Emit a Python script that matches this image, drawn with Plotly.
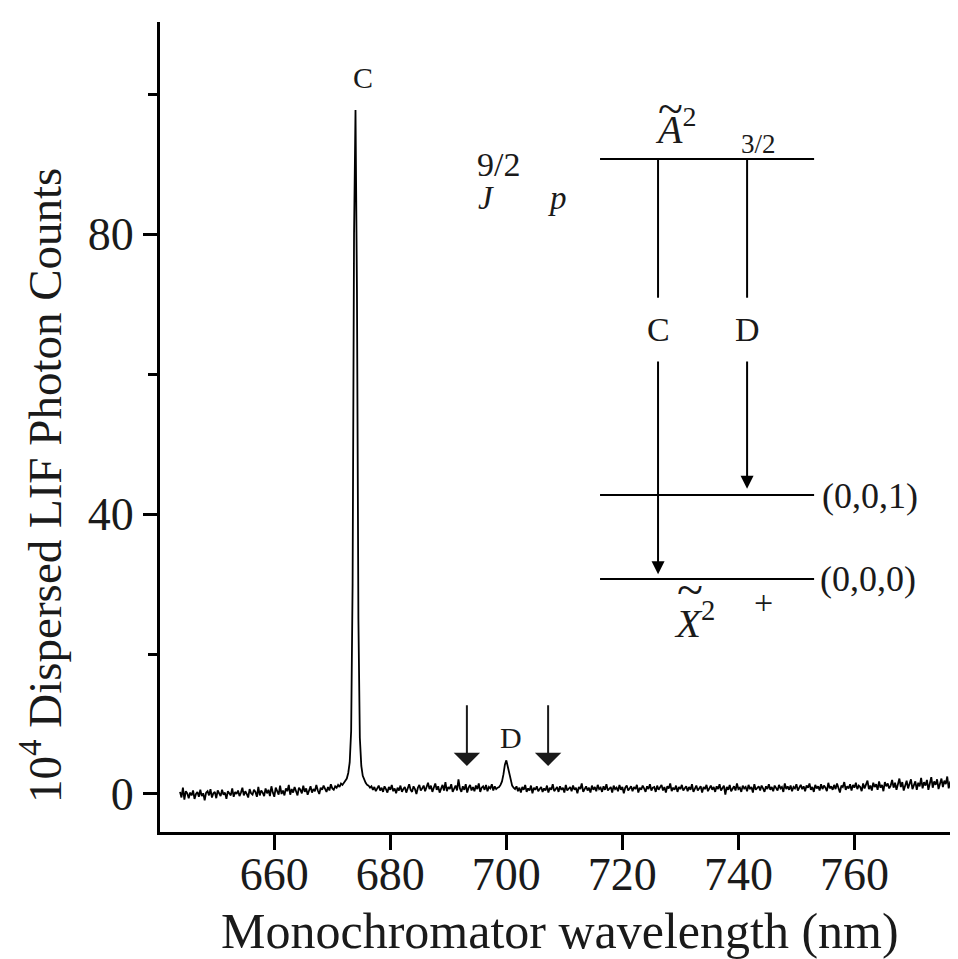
import numpy as np
import plotly.graph_objects as go

# ---------------- data ----------------
WL_START = 643.75   # nm, first sample
WL_STEP = 0.25      # nm, sampling step

BASE_LEFT = [
    0.3, -0.5, 0.9, -0.8, 0.4, 0.1, -0.6, 0.2, -0.2, 0.5, -0.7, 0.0, 0.3, -0.4, 0.6, -0.3, 0.1, -0.9, 0.2, 0.4,
    -0.2, 0.7, -0.5, 0.1, 0.3, -0.6, 0.5, 0.0, -0.3, 0.6, -0.1, 0.2, -0.7, 0.4, 0.1, -0.2, 0.8, -0.4, 0.3, 0.0,
    0.5, -0.3, 0.2, 0.9, -0.2, 0.4, 0.0, -0.5, 0.7, 0.1, -0.1, 0.6, 0.3, -0.4, 1.0, -0.2, 0.5, 0.2, -0.3, 0.8,
    0.1, 0.6, -0.3, 1.1, 0.2, -0.4, 0.9, 0.3, -0.1, 1.2, 0.0, 0.5, -0.2, 0.8, 0.4, 1.3, -0.1, 0.7, 0.2, 1.0,
    0.4, -0.2, 0.9, 0.6, 0.1, 1.2, 0.3, 0.8, -0.1, 0.6, 1.1, 0.2, 0.7, 0.4, 1.3, 0.5, 0.0, 0.9, 0.6, 1.2,
    0.7, 0.3, 1.0, 0.5, 1.4, 0.8, 0.6, 1.1, 0.9, 1.3, 1.0, 1.5, 1.3,
]
PEAK_C = [1.6, 1.9, 2.2, 3.0, 4.5, 9.0, 30.0, 80.0, 97.7, 72.0, 25.0, 8.0, 4.0, 2.6, 2.0, 1.6, 1.3]
BASE_MID = [
    1.2, 0.9, 1.1, 0.6, 1.0, 0.4, 0.8, 1.2, 0.5, 0.9, 0.3, 1.1, 0.7, 0.2, 1.0, 0.6, 1.3, 0.4, 0.8, 0.1,
    0.9, 0.5, 1.2, 0.3, 0.7, 1.0, 0.2, 0.8, 1.4, 0.6, 0.3, 1.1, 0.7, 0.0, 0.9, 1.3, 0.5, 0.8, 1.2, 0.4,
    1.0, 1.6, 0.7, 1.2, 0.3, 0.9, 1.5, 0.6, 1.1, 0.2, 0.8, 1.3, 0.5, 1.7, 0.4, 1.0, 0.7, 1.4, 0.3, 0.9,
    1.2, 0.5, 2.1, 0.8, 0.3, 1.1, 0.6, 1.4, 0.2, 0.9, 1.3, 0.5, 1.0, 0.4, 1.2, 0.7, 1.5, 0.3, 0.9, 1.1,
    0.6, 1.3, 0.4, 1.0, 0.8, 1.4, 0.5, 1.1, 0.7, 0.9,
]
PEAK_D = [1.0, 1.3, 1.8, 2.8, 4.2, 4.8, 3.9, 2.6, 1.7, 1.2, 0.9]
BASE_RIGHT = [
    0.7, 1.1, 0.4, 0.9, 0.2, 1.0, 0.6, 1.3, 0.3, 0.8, 0.5, 1.2, 0.1, 0.9, 0.6, 1.1, 0.4, 0.7, 1.0, 0.3,
    0.8, 0.5, 1.2, 0.2, 0.9, 0.6, 1.4, 0.4, 0.7, 1.0, 0.3, 1.1, 0.6, 0.9, 0.2, 1.3, 0.5, 0.8, 1.0, 0.4,
    1.2, 0.6, 0.9, 0.1, 1.0, 0.7, 1.5, 0.3, 0.8, 1.1, 0.5, 0.9, 0.2, 1.2, 0.6, 1.0, 0.4, 1.3, 0.7, 0.9,
    0.3, 1.1, 0.6, 1.4, 0.5, 0.8, 1.0, 0.2, 1.2, 0.7, 0.9, 0.4, 1.3, 0.6, 1.0, 0.1, 0.9, 1.2, 0.5, 0.8,
    1.1, 0.4, 1.0, 0.7, 1.3, 0.2, 0.9, 0.6, 1.2, 0.8, 0.3, 1.1, 0.7, 1.4, 0.5, 0.9, 1.0, 0.3, 1.2, 0.6,
    0.9, 1.3, 0.5, 1.0, 0.2, 1.1, 0.8, 1.5, 0.4, 0.9, 0.6, 1.2, 0.3, 1.0, 0.7, 1.3, 0.5, 0.8, 1.1, 0.4,
    1.0, 0.6, 1.4, 0.3, 0.9, 1.2, 0.5, 0.8, 1.1, 0.2, 1.0, 0.7, 1.3, 0.4, 0.9, 1.2, 0.6, 1.0, 0.3, 1.1,
    0.7, 1.4, 0.5, 0.9, 1.2, -0.1, 1.0, 0.6, 1.3, 0.4, 0.8, 1.1, 0.5, 1.5, 0.7, 0.9, 0.3, 1.2, 0.8, 1.0,
    0.4, 1.3, 0.7, 1.0, 0.2, 1.4, 0.6, 0.9, 1.1, 0.5, 1.2, 0.8, 0.3, 1.1, 0.7, 1.4, 0.6, 1.0, 0.4, 1.2,
    0.9, 0.5, 1.3, 0.8, 1.0, 0.3, 1.5, 0.7, 1.1, 0.6, 1.2, 0.4, 1.0, 0.8, 1.4, 0.5, 0.9, 1.3, 0.7, 1.1,
    0.4, 1.2, 0.9, 1.5, 0.6, 1.0, 0.3, 1.3, 0.8, 1.1, 0.5, 1.4, 0.7, 1.2, 0.9, 0.4, 1.6, 0.8, 1.1, 0.6,
    1.3, 0.7, 1.5, 0.9, 0.2, 1.2, 1.0, 1.7, 0.6, 1.1, 0.8, 1.4, 0.5, 1.3, 0.9, 1.6, 0.7, 1.2, 1.0, 0.4,
    1.5, 0.8, 1.3, 1.9, 0.7, 1.2, 0.5, 1.6, 1.0, 1.4, 0.6, 1.8, 0.9, 1.3, 0.4, 1.7, 1.1, 1.5, 0.8, 1.2,
    2.0, 0.9, 1.6, 0.6, 1.4, 2.2, 1.0, 1.7, 0.5, 1.3, 1.9, 0.8, 1.5, 2.1, 0.7, 1.4, 1.8, 0.6, 1.6, 1.1,
    2.3, 0.8, 1.7, 1.2, 2.0, 0.6, 1.5, 2.4, 0.9, 1.8, 1.3, 2.1, 0.7, 1.6, 2.2, 1.0, 1.9, 1.4, 2.5, 0.8,
    1.7, 2.1, 1.0, 1.8, 2.4, 1.2, 2.0, 1.5, 2.2,
]
COUNTS = BASE_LEFT + PEAK_C + BASE_MID + PEAK_D + BASE_RIGHT
WAVELENGTH = WL_START + WL_STEP * np.arange(len(COUNTS))

X_TICKS = [660, 680, 700, 720, 740, 760]
Y_TICKS = [0, 40, 80]
Y_MINOR = [20, 60, 100]

PEAK_LABELS = {"C": (675.3, 102.3), "D": (700.8, 8.1)}
MARKER_ARROWS = [693.2, 707.2]          # wavelengths of the two down arrows
MARKER_TAIL, MARKER_TIP = 12.9, 4.0

# energy level inset (drawn in data coordinates)
LEVEL_X = (716.15, 753.05)
LEVELS = {"A": 90.7, "001": 42.7, "000": 30.7}
TRANS_X = {"C": 726.15, "D": 741.5}
TRANS_UPPER_END = 70.9
TRANS_LABEL_Y = 66.3
TRANS_ARROW_START = 62.0
TRANS_TIP = {"C": 31.4, "D": 43.6}

FONT = "Liberation Serif"
INK = "#1a1a1a"

# ---------------- figure ----------------
fig = go.Figure()
fig.add_trace(go.Scatter(x=WAVELENGTH, y=COUNTS, mode="lines",
                         line=dict(color="black", width=1.8), hoverinfo="skip"))

shapes = []
for key, yv in LEVELS.items():
    shapes.append(dict(type="line", xref="x", yref="y", x0=LEVEL_X[0], x1=LEVEL_X[1],
                       y0=yv, y1=yv, line=dict(color="black", width=2)))
for key, xv in TRANS_X.items():
    shapes.append(dict(type="line", xref="x", yref="y", x0=xv, x1=xv,
                       y0=LEVELS["A"], y1=TRANS_UPPER_END, line=dict(color="black", width=2)))

ann = []
# axis titles
ann.append(dict(text="Monochromator wavelength (nm)", xref="paper", yref="paper",
                x=0.5, y=-0.122, xanchor="center", yanchor="middle", showarrow=False,
                font=dict(family=FONT, size=50, color=INK)))
ann.append(dict(text="10<sup>4</sup> Dispersed LIF Photon Counts", xref="paper", yref="paper",
                x=-0.148, y=0.428, xanchor="center", yanchor="middle", showarrow=False,
                textangle=-90, font=dict(family=FONT, size=47, color=INK)))
# peak labels
for lab, (xv, yv) in PEAK_LABELS.items():
    ann.append(dict(text=lab, x=xv, y=yv, xref="x", yref="y", showarrow=False,
                    font=dict(family=FONT, size=30, color=INK)))
# down arrows on spectrum
for xv in MARKER_ARROWS:
    ann.append(dict(text="", x=xv, y=MARKER_TIP, ax=xv, ay=MARKER_TAIL, xref="x", yref="y",
                    axref="x", ayref="y", showarrow=True, arrowhead=1, arrowsize=2.2,
                    arrowwidth=2, arrowcolor=INK, standoff=0))
# transition arrows in inset
for key, xv in TRANS_X.items():
    ann.append(dict(text="", x=xv, y=TRANS_TIP[key], ax=xv, ay=TRANS_ARROW_START, xref="x", yref="y",
                    axref="x", ayref="y", showarrow=True, arrowhead=2, arrowsize=1.3,
                    arrowwidth=2, arrowcolor="black", standoff=0))
    ann.append(dict(text=key, x=xv, y=TRANS_LABEL_Y, xref="x", yref="y", showarrow=False,
                    font=dict(family=FONT, size=34, color=INK)))
# inset texts
inset = [
    dict(text="<i>A</i><sup>2</sup>", x=729.1, y=95.4, font=dict(family=FONT, size=40, color=INK)),
    dict(text="~", x=728.3, y=98.0, font=dict(family=FONT, size=46, color=INK)),
    dict(text="3/2", x=743.4, y=92.9, font=dict(family=FONT, size=27, color=INK)),
    dict(text="9/2", x=698.6, y=89.9, font=dict(family=FONT, size=34, color=INK)),
    dict(text="<i>J</i>", x=696.5, y=85.2, font=dict(family=FONT, size=33, color=INK)),
    dict(text="<i>p</i>", x=708.9, y=85.2, font=dict(family=FONT, size=33, color=INK)),
    dict(text="<i>X</i><sup>2</sup>", x=732.5, y=24.9, font=dict(family=FONT, size=41, color=INK)),
    dict(text="~", x=731.6, y=29.2, font=dict(family=FONT, size=48, color=INK)),
    dict(text="+", x=744.25, y=27.3, font=dict(family=FONT, size=34, color=INK)),
    dict(text="(0,0,1)", x=754.1, y=42.6, xanchor="left", font=dict(family=FONT, size=36, color=INK)),
    dict(text="(0,0,0)", x=753.7, y=30.7, xanchor="left", font=dict(family=FONT, size=36, color=INK)),
]
for a in inset:
    a.update(xref="x", yref="y", showarrow=False)
ann += inset

fig.update_layout(
    width=958, height=959,
    margin=dict(l=152, r=6, t=14, b=135, pad=0),
    paper_bgcolor="white", plot_bgcolor="white",
    showlegend=False,
    shapes=shapes, annotations=ann,
    font=dict(family=FONT, color=INK),
)
fig.update_xaxes(range=[640.3, 778.2], tickvals=X_TICKS, ticktext=[str(v) for v in X_TICKS],
                 showline=True, linewidth=3, linecolor="black", mirror=False,
                 ticks="outside", ticklen=15, tickwidth=3, tickcolor="black",
                 ticklabelstandoff=-15,
                 showgrid=False, zeroline=False,
                 tickfont=dict(family=FONT, size=46, color=INK))
fig.update_yaxes(range=[-5.43, 110.29], tickvals=Y_TICKS, ticktext=[str(v) for v in Y_TICKS],
                 showline=True, linewidth=3, linecolor="black", mirror=False,
                 ticks="outside", ticklen=14, tickwidth=3, tickcolor="black",
                 minor=dict(tickvals=Y_MINOR, ticks="outside", ticklen=9, tickwidth=3, tickcolor="black"),
                 showgrid=False, zeroline=False,
                 tickfont=dict(family=FONT, size=46, color=INK))

fig.write_html("out.html")
